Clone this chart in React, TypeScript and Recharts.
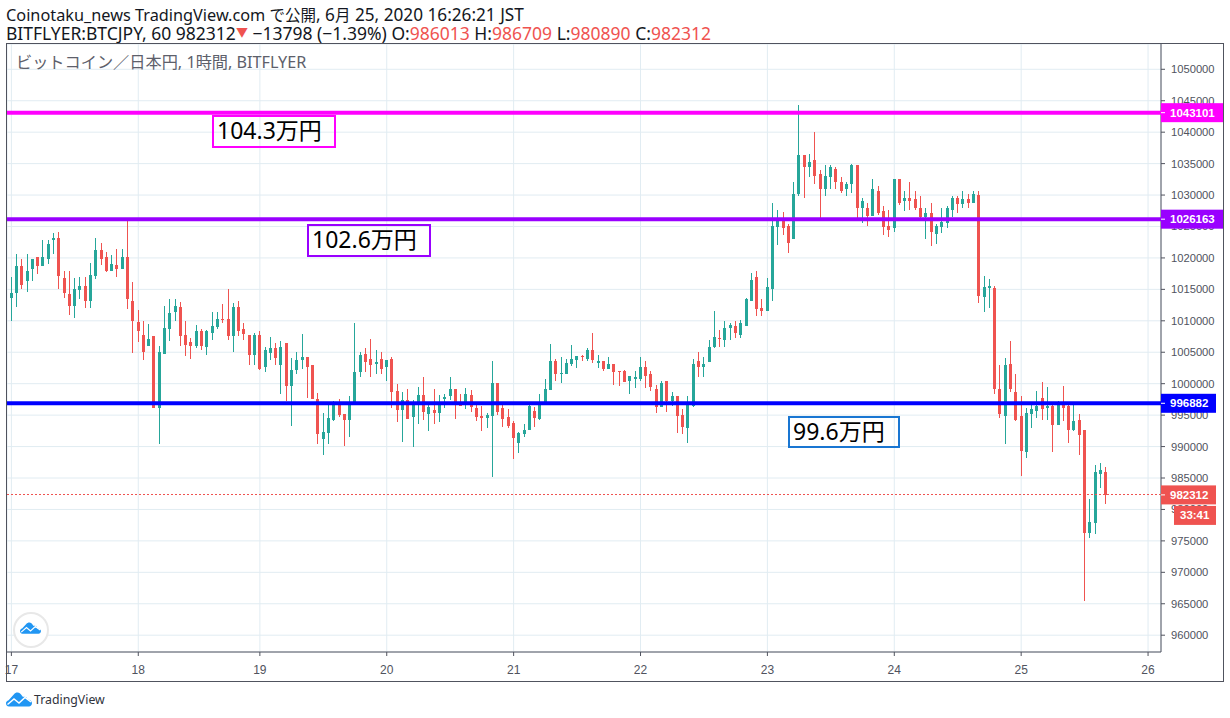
import React from 'react';
import { Bar, CartesianGrid, ComposedChart, ReferenceLine, XAxis, YAxis } from 'recharts';

// prices are in thousands of yen, one array per OHLC field, bar index starts at -1
const opens = [
  1024.5,1013.6,1014.4,1018.7,1016.3,1018.2,1020.1,1018.7,1019.9,1022.8,
  1023.1,1016.8,1014.2,1012.4,1014.9,1015.5,1013.1,1017.1,1021.2,1020.1,
  1018.0,1018.8,1018.2,1020.1,1013.1,1009.8,1007.8,1006.0,1007.6,996.1,
  1004.8,1008.7,1011.4,1012.2,1007.8,1006.7,1006.0,1008.4,1005.9,1008.1,
  1009.0,1010.3,1010.3,1007.6,1012.2,1008.7,1007.8,1004.6,1007.8,1002.6,
  1004.9,1005.6,1003.0,1006.4,999.7,1002.1,1003.7,1004.3,1002.9,997.5,
  991.2,992.1,994.3,996.6,995.1,994.3,996.6,1001.9,1004.8,1004.0,
  1003.2,1004.0,1002.6,1004.0,998.8,995.8,997.4,994.7,996.8,998.2,
  995.2,995.8,995.3,997.6,998.0,999.1,996.9,996.6,998.2,996.1,
  994.9,994.6,994.9,1000.1,996.1,994.7,993.8,990.6,992.0,992.7,
  995.7,994.4,996.6,999.0,1003.6,1001.5,1001.5,1003.1,1003.7,1004.4,
  1004.0,1005.3,1003.3,1003.6,1002.4,1003.1,1002.0,1002.0,1000.5,1000.7,
  1000.7,1002.6,1001.5,999.1,996.3,1000.4,997.2,998.0,995.0,993.0,
  996.4,1003.6,1002.6,1003.4,1005.9,1007.3,1007.0,1008.8,1009.2,1007.7,
  1009.2,1013.2,1017.0,1012.1,1011.6,1015.1,1024.9,1025.8,1025.1,1023.0,
  1030.1,1036.3,1034.4,1035.5,1033.3,1030.9,1032.9,1034.2,1032.1,1030.9,
  1031.7,1034.7,1027.9,1028.0,1026.6,1030.7,1027.4,1025.0,1024.7,1032.6,
  1029.1,1029.5,1029.3,1027.9,1026.5,1027.2,1023.8,1024.9,1025.5,1027.7,
  1029.6,1028.5,1029.3,1028.8,1030.0,1013.8,1015.2,1015.2,999.2,994.9,
  1003.2,998.7,994.8,989.1,995.1,995.7,997.8,996.1,996.5,993.5,
  997.0,996.4,992.7,994.3,992.7,976.3,977.9,985.6,986.013,
];
const highs = [
  1024.5,1016.9,1020.6,1019.9,1020.6,1019.9,1020.1,1022.8,1022.9,1023.9,
  1024.1,1018.0,1018.0,1016.8,1016.9,1016.9,1019.2,1023.1,1022.3,1020.9,
  1020.4,1021.4,1021.4,1026.0,1016.1,1011.7,1010.0,1009.5,1007.6,1006.0,
  1012.4,1013.5,1013.5,1013.0,1010.0,1007.3,1009.3,1008.7,1008.6,1011.4,
  1011.4,1012.7,1015.1,1012.8,1013.2,1009.7,1007.8,1008.1,1008.4,1005.9,
  1007.5,1006.4,1006.8,1006.5,1004.1,1005.1,1007.9,1004.3,1003.0,998.5,
  995.3,996.7,997.3,997.5,995.1,998.0,1009.7,1005.1,1005.7,1007.1,
  1005.4,1005.1,1003.8,1004.3,999.9,998.7,999.1,997.4,999.5,1001.0,
  996.9,999.1,998.2,998.4,1001.0,999.1,998.4,999.3,999.0,996.9,
  996.5,995.3,1003.6,1000.1,996.6,996.0,994.1,992.3,993.6,996.9,
  996.3,998.4,1000.7,1006.3,1004.0,1004.2,1003.9,1006.1,1004.4,1004.5,
  1005.6,1008.0,1004.5,1003.6,1004.3,1003.1,1002.0,1002.1,1001.3,1002.0,
  1004.3,1003.6,1002.0,999.8,1000.5,1000.4,998.6,998.0,996.0,998.0,
  1004.0,1005.1,1004.2,1007.0,1011.5,1008.6,1010.0,1009.7,1009.9,1010.2,
  1013.7,1017.6,1017.9,1013.5,1016.8,1028.7,1027.7,1027.3,1025.4,1032.0,
  1044.3,1036.3,1036.6,1040.1,1034.0,1034.8,1034.7,1034.4,1032.9,1032.1,
  1035.0,1034.7,1029.6,1028.7,1032.6,1031.4,1028.2,1027.6,1032.6,1032.6,
  1030.6,1032.0,1030.7,1029.9,1028.0,1028.7,1025.4,1028.0,1028.2,1029.9,
  1029.9,1030.6,1030.2,1030.6,1030.7,1017.1,1016.6,1015.5,1003.0,1004.1,
  1006.8,1001.6,998.0,996.1,996.9,998.9,1000.2,999.4,996.7,997.2,
  999.7,997.0,997.0,995.1,992.7,981.7,987.0,987.4,986.709,
];
const lows = [
  1013.8,1010.0,1012.2,1015.0,1014.6,1016.3,1017.4,1018.7,1019.0,1020.6,
  1015.0,1013.6,1010.9,1010.5,1013.5,1012.0,1012.0,1016.6,1018.8,1017.7,
  1018.0,1016.9,1018.2,1011.9,1004.9,1006.7,1003.8,1006.0,996.1,990.4,
  1004.8,1006.8,1010.0,1006.0,1004.4,1004.0,1005.7,1005.4,1004.6,1007.0,
  1008.7,1009.7,1007.0,1005.1,1007.6,1007.0,1002.9,1003.0,1002.1,1001.9,
  1003.8,1002.9,998.3,997.2,993.2,1001.5,1002.4,997.8,997.5,990.4,
  988.7,990.4,994.0,994.7,990.1,991.5,996.6,1001.1,1001.9,1001.0,
  1001.5,1001.5,1000.5,996.2,993.9,990.8,994.4,990.0,993.6,994.2,
  992.5,993.6,993.9,996.1,997.4,994.4,996.5,996.0,995.5,994.1,
  992.5,993.0,985.1,995.0,993.1,993.0,988.1,989.0,991.6,992.7,
  993.1,994.2,996.6,999.0,1000.4,1000.1,1001.5,1002.8,1002.5,1003.6,
  1003.6,1003.3,1002.5,1002.0,1002.4,999.8,999.6,1000.2,998.3,999.3,
  1000.4,999.3,998.8,995.3,996.3,995.5,996.4,992.2,992.0,990.6,
  996.3,1001.0,1001.0,1003.4,1005.6,1005.8,1005.9,1006.9,1007.2,1007.3,
  1009.2,1013.2,1010.8,1010.8,1011.6,1013.2,1022.0,1023.6,1020.8,1023.0,
  1029.9,1029.5,1032.8,1031.7,1026.3,1029.9,1030.9,1031.0,1030.4,1029.9,
  1030.3,1026.3,1025.5,1025.0,1026.6,1026.9,1023.6,1023.3,1024.2,1028.4,
  1027.4,1027.6,1027.7,1026.0,1023.0,1021.9,1022.2,1023.9,1024.7,1026.5,
  1027.1,1028.0,1027.9,1028.7,1012.8,1011.4,1012.0,998.3,994.5,990.4,
  998.6,994.0,985.3,988.2,992.9,994.5,994.3,994.3,989.1,993.5,
  994.0,990.5,992.4,988.6,965.5,975.5,976.1,983.4,980.89,
];
const closes = [
  1013.8,1014.4,1018.7,1015.7,1018.0,1019.9,1018.7,1020.1,1022.2,1023.1,
  1017.1,1014.4,1012.4,1015.0,1015.5,1013.1,1017.3,1021.2,1019.9,1018.0,
  1019.0,1018.2,1020.1,1013.5,1010.0,1008.4,1005.1,1007.1,996.1,1005.1,
  1008.9,1011.2,1012.4,1007.6,1006.2,1006.0,1008.4,1006.0,1008.4,1009.2,
  1010.3,1010.2,1007.6,1012.2,1008.4,1007.9,1004.6,1007.8,1002.4,1005.4,
  1005.6,1004.1,1005.9,999.7,1002.2,1003.7,1004.3,1002.7,997.5,992.0,
  992.3,994.5,996.7,995.0,994.3,996.6,1001.9,1004.5,1003.5,1003.0,
  1003.5,1002.4,1003.8,998.6,995.8,997.4,994.4,996.9,998.2,995.5,
  996.3,995.3,996.8,997.9,999.1,996.6,996.5,998.4,996.3,994.7,
  994.6,995.0,1000.1,995.5,994.4,993.3,991.4,992.2,992.7,996.5,
  994.6,996.8,999.1,1003.6,1001.5,1001.7,1003.3,1003.9,1004.4,1004.2,
  1005.3,1003.7,1003.6,1002.4,1003.1,1001.8,1001.8,1000.2,1001.2,1001.0,
  1002.6,1001.3,999.4,996.3,1000.1,997.2,998.0,994.9,993.1,996.6,
  1003.2,1002.6,1003.2,1005.9,1007.5,1007.2,1008.9,1009.4,1008.1,1009.6,
  1013.4,1016.5,1011.9,1011.5,1015.4,1025.1,1025.8,1024.7,1022.4,1030.1,
  1036.3,1034.4,1035.3,1033.1,1030.9,1033.1,1034.5,1032.0,1030.7,1031.8,
  1034.7,1027.9,1029.0,1026.6,1030.9,1027.2,1024.9,1024.4,1032.6,1028.8,
  1029.5,1029.1,1028.0,1026.5,1027.2,1024.1,1025.0,1025.7,1027.9,1029.6,
  1028.5,1029.3,1028.7,1030.1,1013.9,1015.3,1015.5,999.1,995.1,1003.0,
  999.2,994.3,989.3,995.3,995.9,996.5,995.9,996.5,993.5,996.9,
  996.2,992.7,994.0,991.8,976.3,978.0,985.9,986.3,982.312,
];

const dayBars = [0, 24, 47, 71, 95, 119, 143, 167, 191, 215];
const dayLabels = ['17', '18', '19', '20', '21', '22', '23', '24', '25', '26'];
const priceTicks = [960000, 965000, 970000, 975000, 980000, 985000, 990000, 995000, 1000000, 1005000, 1010000, 1015000, 1020000, 1025000, 1030000, 1035000, 1040000, 1045000, 1050000];
const levels = [
  { price: 1043101, color: '#ff00ff' },
  { price: 1026163, color: '#9900ff' },
  { price: 996882, color: '#0000ff' },
];
const lastPrice = 982312;

const UP = '#26a69a';
const DOWN = '#ef5350';
const AXIS = '#50535e';
const CJK = '"Noto Sans", "Noto Sans CJK JP", sans-serif';
const BAR_DOMAIN = [-0.83, 217.45];
const PRICE_DOMAIN = [957328, 1054023];

const table = opens.map((o, i) => ({
  bar: i - 1,
  open: o * 1000,
  high: highs[i] * 1000,
  low: lows[i] * 1000,
  close: closes[i] * 1000,
}));

function Candle(props: any) {
  const { x, y, width, height, payload } = props;
  const { open, high, low, close } = payload;
  const k = height / (high - low || 1);
  const color = close >= open ? UP : DOWN;
  const cx = Math.floor(x + width / 2);
  const top = y + (high - Math.max(open, close)) * k;
  const bodyH = Math.max(Math.abs(open - close) * k, 1);
  return (
    <g shapeRendering="crispEdges">
      <rect x={cx} y={y} width={1} height={height} fill={color} />
      <rect x={cx - 1} y={top} width={3} height={bodyH} fill={color} />
    </g>
  );
}

// price tag sitting on the right axis, takes its y from the reference line
function PriceTag({ viewBox, text, color, countdown }: any) {
  const left = viewBox.x + viewBox.width;
  const w = text.length > 6 ? 62 : 55;
  const cy = viewBox.y;
  return (
    <g fontFamily="Liberation Sans" fontSize={11.5} fontWeight={700} fill="#fff">
      <rect x={left} y={cy - 9.5} width={w} height={19} fill={color} />
      <line x1={left} x2={left + 4} y1={cy} y2={cy} stroke="#fff" />
      <text x={left + 9} y={cy + 4}>{text}</text>
      {countdown && <rect x={left + 13} y={cy + 11} width={42} height={19} fill={color} />}
      {countdown && <text x={left + 19} y={cy + 24.5}>{countdown}</text>}
    </g>
  );
}

function Cloud({ left, top, w }: { left: number; top: number; w: number }) {
  return (
    <svg style={{ position: 'absolute', left, top }} width={w} height={(w * 14.5) / 26} viewBox="0 0 26 14.5">
      <path
        d="M3 14.5C1 14.5 0 13 0 11.3 0 9.8 1 8.6 2.6 8.2L8 2.2C8.8 1.2 10 .5 11.5 .5 13.5 .5 15 2 15.8 3.6L17 5C18 4.5 19.5 4.6 20.5 5.6 21 6.2 21.3 7 21.3 7.6 23.5 7.6 26 9 26 11.3 26 13.3 24.5 14.5 23 14.5Z"
        fill="#2196f3"
      />
      <polyline points="1.5,12.5 8,7 13,11 19,5.5 25,10" stroke="#fff" strokeWidth={1.5} fill="none" />
    </svg>
  );
}

function Note({ text, left, top, width, height, color }: any) {
  return (
    <div
      style={{
        position: 'absolute', left, top, width, height, boxSizing: 'border-box',
        border: `2px solid ${color}`, color: '#000', fontFamily: CJK, fontSize: 23,
        lineHeight: '27px', paddingLeft: 3, whiteSpace: 'nowrap',
      }}
    >
      {text}
    </div>
  );
}

const red = { color: DOWN };
const kana = { fontSize: 15.5 };
const layer = { position: 'absolute', left: 0, top: 0 } as const;

export default function App() {
  return (
    <div style={{ position: 'absolute', left: 0, top: 0, width: 1230, height: 718, background: '#fff', overflow: 'hidden' }}>
      <div style={{ position: 'absolute', left: 6, top: 6, fontFamily: CJK, lineHeight: '17px', color: '#131722', whiteSpace: 'nowrap' }}>
        <div style={{ fontSize: 17.2 }}>
          <span style={{ fontSize: 16.3 }}>Coinotaku_news TradingView.com </span><span style={kana}>で公開</span>, 6<span style={kana}>月</span> 25, 2020 16:26:21 JST
        </div>
        <div style={{ fontSize: 17.5 }}>
          BITFLYER:BTCJPY, 60 982312<span style={{ color: DOWN, fontSize: 12, verticalAlign: 3 }}>▼</span> −13798 (−1.39%) O:<span style={red}>986013</span> H:<span style={red}>986709</span> L:<span style={red}>980890</span> C:<span style={red}>982312</span>
        </div>
      </div>

      <ComposedChart width={1230} height={718} data={table} margin={{ top: 44, right: 7, bottom: 37, left: 7 }} style={layer}>
        <CartesianGrid stroke="#e1ecf2" />
        <XAxis
          dataKey="bar"
          type="number"
          domain={BAR_DOMAIN}
          allowDataOverflow
          ticks={dayBars}
          tickFormatter={(v: number) => dayLabels[dayBars.indexOf(v)]}
          height={29}
          tickSize={4}
          tickMargin={9}
          stroke={AXIS}
          interval={0}
          tick={{ fontFamily: 'Liberation Sans', fontSize: 12, fill: AXIS }}
        />
        <YAxis
          orientation="right"
          type="number"
          domain={PRICE_DOMAIN}
          allowDataOverflow
          ticks={priceTicks}
          width={62}
          tickSize={4}
          tickMargin={6}
          stroke={AXIS}
          interval={0}
          tick={{ fontFamily: 'Liberation Sans', fontSize: 11.2, fill: AXIS }}
        />
        <Bar dataKey={(d: any) => [d.low, d.high]} barSize={5} shape={Candle} isAnimationActive={false} />
      </ComposedChart>

      {/* second chart on top so the level lines and their tags cover candles and axis labels */}
      <ComposedChart width={1230} height={718} data={table} margin={{ top: 44, right: 69, bottom: 66, left: 7 }} style={layer}>
        <XAxis dataKey="bar" type="number" domain={BAR_DOMAIN} allowDataOverflow hide />
        <YAxis type="number" domain={PRICE_DOMAIN} allowDataOverflow hide />
        <ReferenceLine
          y={lastPrice}
          stroke={DOWN}
          strokeDasharray="2 2"
          shapeRendering="crispEdges"
          label={(p: any) => <PriceTag {...p} text={String(lastPrice)} color={DOWN} countdown="33:41" />}
        />
        {levels.map((l) => (
          <ReferenceLine
            key={l.price}
            y={l.price}
            stroke={l.color}
            strokeWidth={4}
            label={(p: any) => <PriceTag {...p} text={String(l.price)} color={l.color} />}
          />
        ))}
      </ComposedChart>

      <div style={{ position: 'absolute', left: 16, top: 51, fontFamily: CJK, fontSize: 16.2, lineHeight: '22px', color: '#5d606b', whiteSpace: 'nowrap' }}>
        ビットコイン／日本円, 1時間, BITFLYER
      </div>

      <Note text="104.3万円" left={212} top={115} width={124} height={33} color="#ff00ff" />
      <Note text="102.6万円" left={307} top={224} width={124} height={33} color="#9900ff" />
      <Note text="99.6万円" left={788} top={416} width={112} height={32} color="#1976d2" />

      <div style={{ position: 'absolute', left: 6, top: 43, width: 1216, height: 637, border: `1px solid ${AXIS}`, pointerEvents: 'none' }} />

      <div style={{ position: 'absolute', left: 13, top: 612, width: 32, height: 32, borderRadius: '50%', border: '2px solid #e8e8e8', background: '#fff' }} />
      <Cloud left={20} top={622} w={21} />
      <Cloud left={6} top={692} w={26} />
      <div style={{ position: 'absolute', left: 34, top: 691, fontFamily: CJK, fontSize: 12.3, lineHeight: '18px', color: '#30333c' }}>TradingView</div>
    </div>
  );
}
